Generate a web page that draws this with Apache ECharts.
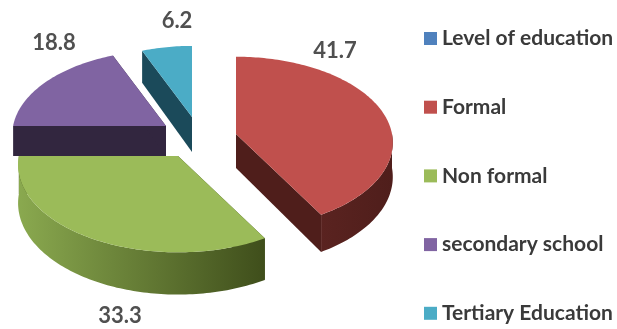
<!DOCTYPE html>
<html><head><meta charset="utf-8">
<style>html,body{margin:0;padding:0;background:#fff}#c{width:617px;height:329px;filter:blur(0.6px)}</style>
<script src="https://cdn.jsdelivr.net/npm/echarts@6/dist/echarts.min.js"></script>
</head><body><div id="c"></div>
<script>
var categories = ['Level of education','Formal','Non formal','secondary school','Tertiary Education'];
var values = [null, 41.7, 33.3, 18.8, 6.2];
var topColors = ['#4f81bd','#c0504d','#9bbb59','#8064a2','#4bacc6'];
var sideColors = ['#2c4a6e','#4f1e1b','#3f4e1b','#32263f','#1b4a5a'];
var wallLight = [null,'#5a2320','#8aa94f',null,null];
var apex = [null,[236,134],[178,156],[166,126],[192,117]];
var depths = [0,34,38,30,35];
var scales = [1,1,1.02,0.98,0.92];
var labelAt = [null,[335,51],[120,316],[54,43],[177,21]];
var zOrder = [1,5,4,3,2];

var RX=156, RY=85, K=0.1;
var total = values.reduce(function(a,b){return a+(b||0);},0);
function project(c,th,d,sc){
  var X=Math.sin(th),Y=-Math.cos(th),s=1/(1-K*Y);
  return [c[0]+RX*sc*X*s, c[1]+RY*sc*Y*s+d*s];
}
function arc(c,a,b,d,sc){
  var n=Math.max(2,Math.ceil(Math.abs(b-a)/0.02)),p=[];
  for(var i=0;i<=n;i++)p.push(project(c,a+(b-a)*i/n,d,sc));
  return p;
}
function startOf(i){var s=0;for(var j=0;j<i;j++)s+=values[j]||0;return s/total*2*Math.PI;}
function makeItem(i){
  return function(params,api){
    var v=api.value(0),a=startOf(i),b=a+v/total*2*Math.PI,c=apex[i],d=depths[i],sc=scales[i],ch=[];
    var side=sideColors[i],top=topColors[i];
    function face(th){
      var e=project(c,th,0,sc),e2=project(c,th,d,sc);
      ch.push({type:'polygon',shape:{points:[c,e,e2,[c[0],c[1]+d]]},style:{fill:side}});
    }
    face(a);face(b);
    var wa=Math.max(a,Math.PI/2),wb=Math.min(b,Math.PI*1.5);
    if(wb>wa){
      var up=arc(c,wa,wb,0,sc),lo=arc(c,wb,wa,d,sc),pts=up.concat(lo),fill=side;
      if(wallLight[i]){
        fill=new echarts.graphic.LinearGradient(0,0,1,0,[{offset:0,color:wallLight[i]},{offset:1,color:side}]);
      }
      ch.push({type:'polygon',shape:{points:pts},style:{fill:fill}});
    }
    ch.push({type:'polygon',shape:{points:[c].concat(arc(c,a,b,0,sc))},style:{fill:top}});
    ch.push({type:'text',style:{x:labelAt[i][0],y:labelAt[i][1],text:String(v),align:'center',verticalAlign:'middle',
      font:'bold 22px Lato',fill:'#505050'}});
    return {type:'group',children:ch};
  };
}
var series = categories.map(function(name,i){
  return {type:'custom',name:name,coordinateSystem:'none',z:zOrder[i],silent:true,animation:false,
    itemStyle:{color:topColors[i]},
    data:values[i]==null?[]:[[values[i]]],
    renderItem:makeItem(i)};
});
var chart=echarts.init(document.getElementById('c'),null,{renderer:'canvas'});
chart.setOption({
  animation:false,
  backgroundColor:'#fff',
  legend:{orient:'vertical',left:424,top:28,padding:0,icon:'rect',itemWidth:13,itemHeight:13,itemGap:47.7,
    data:categories,selectedMode:false,
    textStyle:{fontFamily:'Lato',fontWeight:'bold',fontSize:21,color:'#3a3a3a'}},
  series:series
});
</script></body></html>
